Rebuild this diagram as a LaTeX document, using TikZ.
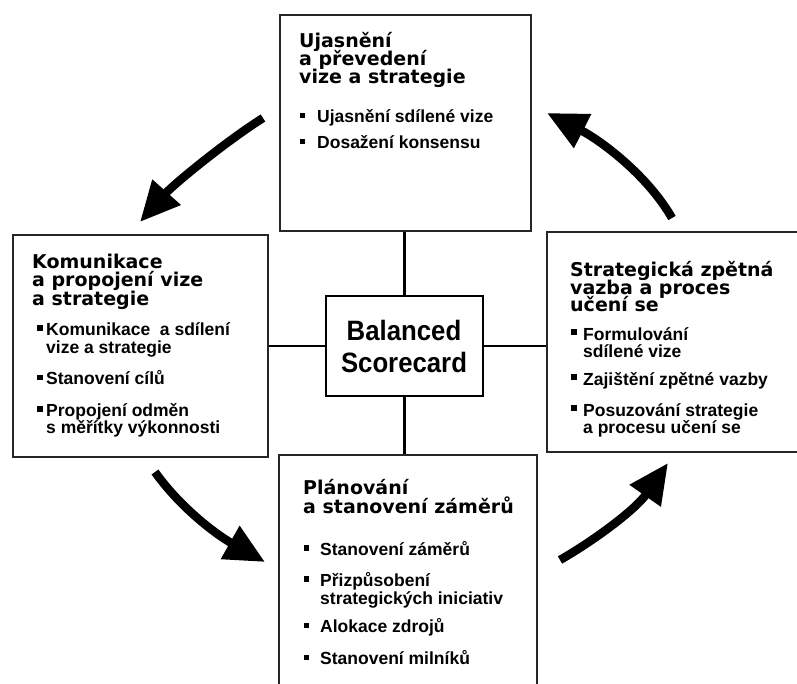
\documentclass[tikz,border=0pt]{standalone}
\usepackage{fontspec}
\usepackage{graphicx}
\setmainfont{Liberation Sans}
\newfontfamily\titlefont{DejaVu Sans}
\newfontfamily\itemfont{Liberation Sans}
\newfontfamily\bscfont{Liberation Sans}
\usetikzlibrary{arrows.meta}
\tikzset{
  box/.style={draw=black!85, line width=1.4pt, fill=white, inner sep=0pt},
  cbox/.style={draw=black, line width=2pt, fill=white, inner sep=0pt},
  ttl/.style={anchor=west, inner sep=0pt, font=\titlefont\bfseries\fontsize{19}{19}\selectfont, text height=13.8pt, text depth=0pt},
  itm/.style={anchor=west, inner sep=0pt, font=\itemfont\bfseries\fontsize{17.5}{19}\selectfont, text height=12.5pt, text depth=0pt},
  bsctext/.style={anchor=center, inner sep=0pt, font=\bscfont\bfseries\fontsize{28}{30}\selectfont, text height=20pt, text depth=0pt},
  link/.style={line width=2.6pt},
  bigarrow/.style={line width=8.5pt, -{Triangle[length=40pt,width=36pt]}},
}
\newcommand{\bulsq}[2]{\fill (#1-2.6,#2-3.6) rectangle (#1+2.6,#2+1.6);}
\begin{document}
\begin{tikzpicture}[x=1pt,y=-1pt]
\useasboundingbox (0,0) rectangle (797,684);
\clip (0,0) rectangle (797,684);
% boxes
\node[box, minimum width=251pt, minimum height=216pt] (top) at (405.5,123) {};
\node[box, minimum width=255pt, minimum height=222pt] (left) at (140.5,346) {};
\node[box, minimum width=263pt, minimum height=220pt] (right) at (678.5,342) {};
\node[box, minimum width=258pt, minimum height=245pt] (bottom) at (408,577.5) {};
\node[cbox, minimum width=157pt, minimum height=100pt] (bsc) at (404.5,346) {};
% connectors
\draw[link] (bsc.north) -- (bsc.north |- top.south);
\draw[link] (bsc.south) -- (bsc.south |- bottom.north);
\draw[link] (bsc.west) -- (bsc.west -| left.east);
\draw[link] (bsc.east) -- (bsc.east -| right.west);
% center text
\node[bsctext] (bsc1) at (404,330) {\scalebox{0.92}[1]{Balanced}};
\node[bsctext] (bsc2) at (404,362.5) {\scalebox{0.92}[1]{Scorecard}};
% top box
\node[ttl] (t1) at (299,41) {Ujasnění};
\node[ttl] (t2) at (299,59) {a převedení};
\node[ttl] (t3) at (299,77) {vize a strategie};
\bulsq{302.5}{116.5}
\node[itm] (t4) at (317,116.5) {Ujasnění sdílené vize};
\bulsq{302.5}{142.5}
\node[itm] (t5) at (317,142.5) {Dosažení konsensu};
% left box
\node[ttl] (l1) at (32,261.5) {Komunikace};
\node[ttl] (l2) at (32,280) {a propojení vize};
\node[ttl] (l3) at (32,298.5) {a strategie};
\bulsq{40}{329}
\node[itm] (l4) at (46,329) {Komunikace\ \ a sdílení};
\node[itm] (l5) at (46,347) {vize a strategie};
\bulsq{40}{378.5}
\node[itm] (l6) at (46,378.5) {Stanovení cílů};
\bulsq{40}{410}
\node[itm] (l7) at (46,410) {Propojení odměn};
\node[itm] (l8) at (46,427.5) {s měřítky výkonnosti};
% right box
\node[ttl] (r1) at (570,270) {Strategická zpětná};
\node[ttl] (r2) at (570,287.5) {vazba a proces};
\node[ttl] (r3) at (570,305) {učení se};
\bulsq{574}{333}
\node[itm] (r4) at (583,334) {Formulování};
\node[itm] (r5) at (583,351) {sdílené vize};
\bulsq{574}{378}
\node[itm] (r6) at (583,379) {Zajištění zpětné vazby};
\bulsq{574}{409}
\node[itm] (r7) at (583,410) {Posuzování strategie};
\node[itm] (r8) at (583,427.5) {a procesu učení se};
% bottom box
\node[ttl] (b1) at (303,487.5) {Plánování};
\node[ttl] (b2) at (303,506.5) {a stanovení záměrů};
\bulsq{306.5}{549}
\node[itm] (b3) at (320,549) {Stanovení záměrů};
\bulsq{306.5}{580}
\node[itm] (b4) at (320,580) {Přizpůsobení};
\node[itm] (b5) at (320,598.5) {strategických iniciativ};
\bulsq{306.5}{626.5}
\node[itm] (b6) at (320,626.5) {Alokace zdrojů};
\bulsq{306.5}{658.5}
\node[itm] (b7) at (320,658.5) {Stanovení milníků};
% cycle arrows
\coordinate (a1s) at (263,118);
\coordinate (a1e) at (140,222);
\draw[bigarrow] (a1s) .. controls (225,142) and (173.5,184.5) .. (a1e);
\coordinate (a2s) at (672,218);
\coordinate (a2e) at (547,113);
\draw[bigarrow] (a2s) .. controls (647,174.5) and (600,140) .. (a2e);
\coordinate (a3s) at (155,472);
\coordinate (a3e) at (265,562);
\draw[bigarrow] (a3s) .. controls (181,508.5) and (217,535) .. (a3e);
\coordinate (a4s) at (560,560);
\coordinate (a4e) at (668,463);
\draw[bigarrow] (a4s) .. controls (599,537.5) and (636.6,508) .. (a4e);
\end{tikzpicture}
\end{document}
